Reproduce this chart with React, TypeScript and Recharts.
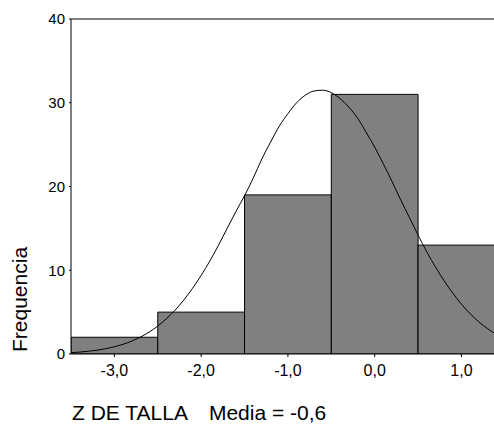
import React from "react";
import {
  ComposedChart,
  Line,
  XAxis,
  YAxis,
  ReferenceArea,
  ReferenceLine,
} from "recharts";

// histogram bins (Z DE TALLA), width 1
const binStarts = [-3.5, -2.5, -1.5, -0.5, 0.5];
const binEnds = [-2.5, -1.5, -0.5, 0.5, 1.5];
const binCounts = [2, 5, 19, 31, 13];

// normal curve
const curveX = [
  -3.5, -3.4, -3.3, -3.2, -3.1, -3.0, -2.9, -2.8, -2.7, -2.6,
  -2.5, -2.4, -2.3, -2.2, -2.1, -2.0, -1.9, -1.8, -1.7, -1.6,
  -1.5, -1.4, -1.3, -1.2, -1.1, -1.0, -0.9, -0.8, -0.7, -0.6,
  -0.5, -0.4, -0.3, -0.2, -0.1, 0.0, 0.1, 0.2, 0.3, 0.4,
  0.5, 0.6, 0.7, 0.8, 0.9, 1.0, 1.1, 1.2, 1.3, 1.4,
];
const curveY = [
  0.16, 0.23, 0.33, 0.46, 0.63, 0.86, 1.16, 1.54, 2.02, 2.61,
  3.34, 4.21, 5.24, 6.45, 7.83, 9.39, 11.1, 13.0, 15.0, 17.0,
  18.9, 21.0, 23.3, 25.3, 27.2, 28.7, 30.0, 30.9, 31.4, 31.5,
  31.2, 30.5, 29.5, 28.2, 26.5, 24.7, 22.7, 20.6, 18.4, 16.3,
  14.2, 12.2, 10.4, 8.75, 7.26, 5.95, 4.81, 3.84, 3.03, 2.36,
];

const xTicks = [-3, -2, -1, 0, 1];
const yTicks = [0, 10, 20, 30, 40];

const xTitle = "Z DE TALLA";
const meanText = "Media = -0,6";
const yTitle = "Frequencia";

const FONT = "Arial, 'Liberation Sans', Helvetica, sans-serif";

const curveData = curveX.map((x, i) => ({ x, y: curveY[i] }));

const formatTick = (v: number) => v.toFixed(1).replace(".", ",");

export default function App() {
  return (
    <div style={{ position: "absolute", left: 0, top: 0, background: "#fff" }}>
      <ComposedChart
        width={494}
        height={424}
        data={curveData}
        margin={{ top: 19, right: 0, bottom: 0, left: 0 }}
        style={{ fontFamily: FONT }}
      >
        <XAxis
          dataKey="x"
          type="number"
          domain={[-3.5, 1.375]}
          allowDataOverflow
          ticks={xTicks}
          tickFormatter={formatTick}
          height={70}
          tickSize={3}
          tickMargin={8}
          stroke="#000"
          tick={{ fill: "#000", fontSize: 16, fontFamily: FONT }}
          label={{
            content: ({ viewBox }: any) => (
              <text
                x={viewBox.x + 1}
                y={viewBox.y + viewBox.height - 4}
                fontSize={21}
                fontFamily={FONT}
                fill="#000"
              >
                {xTitle}
                <tspan dx={21}>{meanText}</tspan>
              </text>
            ),
          }}
        />
        <YAxis
          type="number"
          domain={[0, 40]}
          ticks={yTicks}
          width={71}
          tickSize={2}
          tickMargin={4}
          stroke="#000"
          tick={{ fill: "#000", fontSize: 15, fontFamily: FONT }}
          label={{
            content: ({ viewBox }: any) => {
              const tx = viewBox.x + 27;
              const ty = viewBox.y + viewBox.height - 2;
              return (
                <text
                  x={tx}
                  y={ty}
                  transform={`rotate(-90 ${tx} ${ty})`}
                  fontSize={21}
                  fontFamily={FONT}
                  fill="#000"
                >
                  {yTitle}
                </text>
              );
            },
          }}
        />
        {binCounts.map((c, i) => (
          <ReferenceArea
            key={i}
            x1={binStarts[i]}
            x2={binEnds[i]}
            y1={0}
            y2={c}
            ifOverflow="hidden"
            fill="#808080"
            fillOpacity={1}
            stroke="#000"
            strokeWidth={1}
          />
        ))}
        <ReferenceLine y={40} stroke="#555" strokeWidth={1.5} />
        <Line
          dataKey="y"
          type="monotone"
          stroke="#000"
          strokeWidth={1}
          dot={false}
          activeDot={false}
          isAnimationActive={false}
        />
      </ComposedChart>
    </div>
  );
}
